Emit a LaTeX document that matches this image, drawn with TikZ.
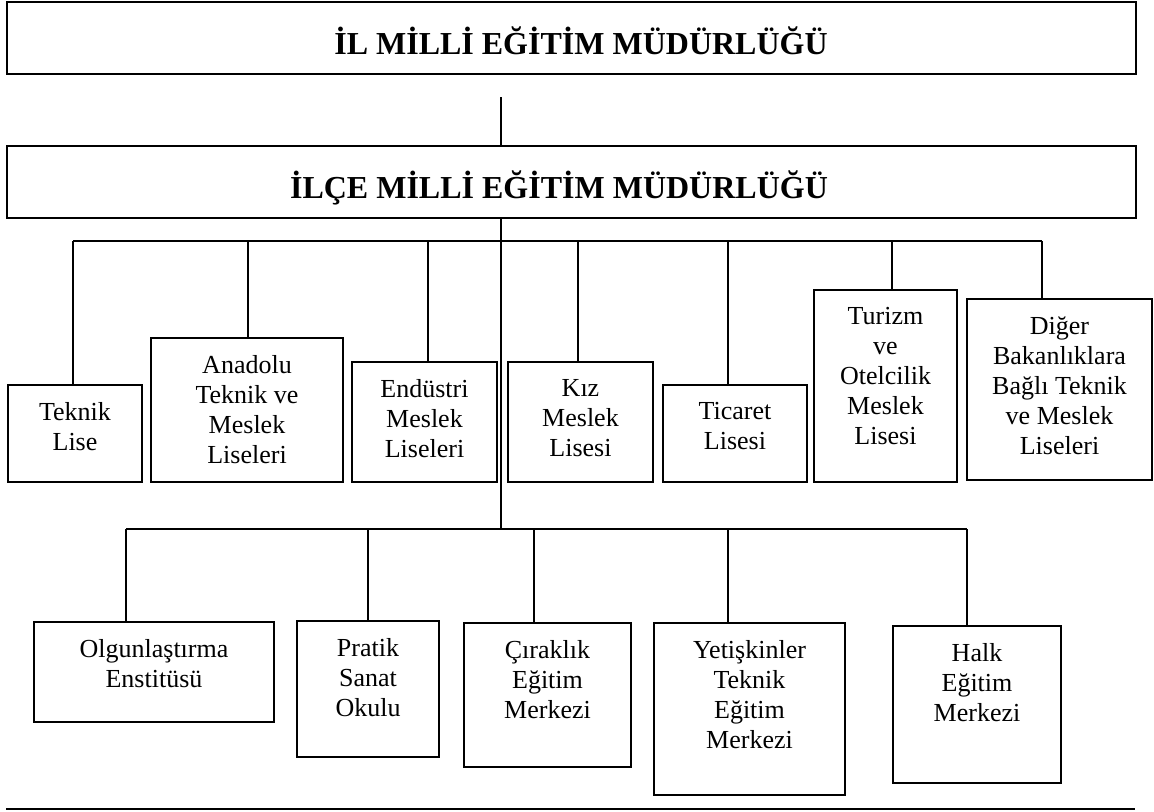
\documentclass[tikz,border=0pt]{standalone}
\usepackage{fontspec}
\setmainfont{Liberation Serif}
\usetikzlibrary{fit}
\newcommand\orgbox[6][box]{\node[#1, fit={(#3,#4) (#5,#6)}] (#2) {};}
\begin{document}
\begin{tikzpicture}[x=0.5pt, y=-0.5pt,
  bigbox/.style={draw, line width=1.4pt, inner sep=0pt},
  box/.style={draw, line width=1pt, inner sep=0pt},
  conn/.style={line width=0.7pt},
  ttl/.style={font=\bfseries\fontsize{16}{19}\selectfont, inner sep=0pt, anchor=base},
  lbl/.style={font=\fontsize{13}{15}\selectfont, align=center, anchor=north,
              inner sep=0pt, yshift=-9pt, execute at begin node=\strut}]
\useasboundingbox (0,0) rectangle (1154,811);

% top boxes
\orgbox[bigbox]{il}{7}{2}{1136}{74}
\orgbox[bigbox]{ilce}{7}{146}{1136}{218}
\node[ttl] (ilt) at (581,54) {İL MİLLİ EĞİTİM MÜDÜRLÜĞÜ};
\node[ttl] (ilcet) at (559,198) {İLÇE MİLLİ EĞİTİM MÜDÜRLÜĞÜ};

% upper row boxes
\orgbox{b1}{8}{385}{142}{482}
\orgbox{b2}{151}{338}{343}{482}
\orgbox{b3}{352}{362}{497}{482}
\orgbox{b4}{508}{362}{653}{482}
\orgbox{b5}{663}{385}{807}{482}
\orgbox{b6}{814}{290}{957}{482}
\orgbox{b7}{967}{299}{1152}{480}
\node[lbl] (l1) at (b1.north) {Teknik\\Lise};
\node[lbl] (l2) at (b2.north) {Anadolu\\Teknik ve\\Meslek\\Liseleri};
\node[lbl] (l3) at (b3.north) {Endüstri\\Meslek\\Liseleri};
\node[lbl] (l4) at (b4.north) {Kız\\Meslek\\Lisesi};
\node[lbl] (l5) at (b5.north) {Ticaret\\Lisesi};
\node[lbl] (l6) at (b6.north) {Turizm\\ve\\Otelcilik\\Meslek\\Lisesi};
\node[lbl] (l7) at (b7.north) {Diğer\\Bakanlıklara\\Bağlı Teknik\\ve Meslek\\Liseleri};

% lower row boxes
\orgbox{c1}{34}{622}{274}{722}
\orgbox{c2}{297}{621}{439}{757}
\orgbox{c3}{464}{623}{631}{767}
\orgbox{c4}{654}{623}{845}{795}
\orgbox{c5}{893}{626}{1061}{783}
\node[lbl] (k1) at (c1.north) {Olgunlaştırma\\Enstitüsü};
\node[lbl] (k2) at (c2.north) {Pratik\\Sanat\\Okulu};
\node[lbl] (k3) at (c3.north) {Çıraklık\\Eğitim\\Merkezi};
\node[lbl] (k4) at (c4.north) {Yetişkinler\\Teknik\\Eğitim\\Merkezi};
\node[lbl] (k5) at (c5.north) {Halk\\Eğitim\\Merkezi};

% main trunk
\coordinate (m0) at (501,97);
\coordinate (mb) at (501,529);
\draw[conn] (m0) -- (m0 |- ilce.north);
\draw[conn] (m0 |- ilce.south) -- (mb);

% upper bus
\coordinate (d1) at (73,241);
\coordinate (d2) at (248,241);
\coordinate (d3) at (428,241);
\coordinate (d4) at (578,241);
\coordinate (d5) at (728,241);
\coordinate (d6) at (892,241);
\coordinate (d7) at (1042,241);
\draw[conn] (d1) -- (d7);
\foreach \i in {1,...,7} {\draw[conn] (d\i) -- (d\i |- b\i.north);}

% lower bus
\coordinate (e1) at (126,529);
\coordinate (e2) at (368,529);
\coordinate (e3) at (534,529);
\coordinate (e4) at (728,529);
\coordinate (e5) at (967,529);
\draw[conn] (e1) -- (e5);
\foreach \i in {1,...,5} {\draw[conn] (e\i) -- (e\i |- c\i.north);}

% bottom rule
\coordinate (f1) at (6,809);
\coordinate (f2) at (1135,809);
\draw[conn] (f1) -- (f2);
\end{tikzpicture}
\end{document}
